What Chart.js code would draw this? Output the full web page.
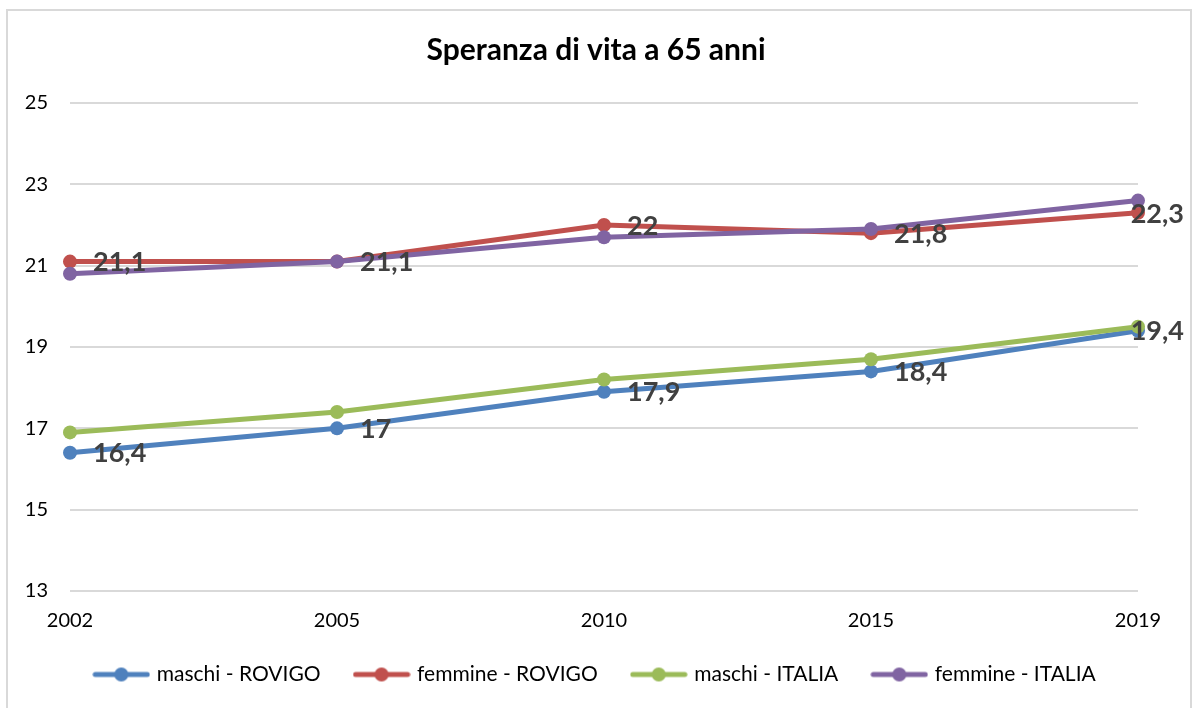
<!DOCTYPE html>
<html><head><meta charset="utf-8">
<script src="https://cdn.jsdelivr.net/npm/chart.js@4/dist/chart.umd.min.js"></script>
<style>
html,body{margin:0;padding:0;background:#fff;}
#wrap{position:relative;width:1192px;height:708px;overflow:hidden;}
#frame{position:absolute;left:6px;top:9px;width:1186px;height:720px;border:2px solid #d9d9d9;box-sizing:border-box;pointer-events:none;}
canvas{position:absolute;left:0;top:0;}
</style></head><body>
<div id="wrap"><canvas id="c" width="1192" height="708"></canvas><div id="frame"></div></div>
<script>
const years = ['2002', '2005', '2010', '2015', '2019'];
const maschiRovigo = [16.4, 17, 17.9, 18.4, 19.4];
const femmineRovigo = [21.1, 21.1, 22, 21.8, 22.3];
const maschiItalia = [16.9, 17.4, 18.2, 18.7, 19.5];
const femmineItalia = [20.8, 21.1, 21.7, 21.9, 22.6];
const seriesNames = ['maschi - ROVIGO', 'femmine - ROVIGO', 'maschi - ITALIA', 'femmine - ITALIA'];
const seriesColors = ['#4F81BD', '#C0504D', '#9BBB59', '#8064A2'];
const yMin = 13, yMax = 25, yStep = 2;
const titleText = 'Speranza di vita a 65 anni';

function legendIcon(color) {
  const c = document.createElement('canvas');
  c.width = 58; c.height = 16;
  const g = c.getContext('2d');
  g.strokeStyle = color; g.lineWidth = 5; g.lineCap = 'round';
  g.beginPath(); g.moveTo(3, 8); g.lineTo(55, 8); g.stroke();
  g.fillStyle = color; g.beginPath(); g.arc(29, 8, 7, 0, Math.PI * 2); g.fill();
  return c;
}

const valueLabels = {
  id: 'valueLabels',
  afterDatasetsDraw(chart) {
    const ctx = chart.ctx;
    ctx.save();
    ctx.font = 'bold 27px Lato';
    ctx.fillStyle = '#404040';
    ctx.textBaseline = 'middle';
    ctx.textAlign = 'left';
    [0, 1].forEach(di => {
      const meta = chart.getDatasetMeta(di);
      meta.data.forEach((pt, i) => {
        const txt = String(chart.data.datasets[di].data[i]).replace('.', ',');
        const w = ctx.measureText(txt).width;
        let x = pt.x + 23;
        if (x + w > 1184) x = 1184 - w;
        ctx.fillText(txt, x, pt.y + 1);
      });
    });
    ctx.restore();
  }
};

function build() {
  const allSeries = [maschiRovigo, femmineRovigo, maschiItalia, femmineItalia];
  const datasets = allSeries.map((d, i) => ({
    label: seriesNames[i],
    data: d,
    yAxisID: 'y',
    borderColor: seriesColors[i],
    backgroundColor: seriesColors[i],
    pointBackgroundColor: seriesColors[i],
    pointBorderColor: seriesColors[i],
    borderWidth: 5,
    pointRadius: 7,
    pointBorderWidth: 0,
    pointHoverRadius: 7,
    tension: 0,
    order: 3 - i
  }));
  const icons = seriesColors.map(legendIcon);
  new Chart(document.getElementById('c'), {
    type: 'line',
    data: { labels: years, datasets },
    plugins: [valueLabels],
    options: {
      responsive: false,
      animation: false,
      layout: { padding: { left: 0, right: 0, top: 0, bottom: 13 } },
      plugins: {
        tooltip: { enabled: false },
        title: {
          display: true,
          text: titleText,
          color: '#000',
          font: { family: 'Lato', size: 30, weight: 'bold' },
          padding: { top: 32, bottom: 35 }
        },
        legend: {
          position: 'bottom',
          labels: {
            usePointStyle: true,
            pointStyleWidth: 50,
            color: '#000',
            font: { family: 'Lato', size: 21 },
            padding: 36,
            generateLabels: (chart) => chart.data.datasets.map((ds, i) => ({
              text: ds.label,
              pointStyle: icons[i],
              fillStyle: ds.borderColor,
              strokeStyle: ds.borderColor,
              fontColor: '#000',
              lineWidth: 0,
              hidden: false,
              datasetIndex: i
            }))
          }
        }
      },
      scales: {
        x: {
          type: 'category',
          offset: false,
          grid: { display: false, drawTicks: false },
          border: { display: false },
          ticks: { color: '#000', font: { family: 'Lato', size: 20 }, padding: 18, maxRotation: 0, autoSkip: false },
          afterFit: (s) => { s.height = 37; }
        },
        y: {
          min: yMin, max: yMax,
          position: 'left',
          grid: { color: '#d9d9d9', lineWidth: 2, drawTicks: false },
          border: { display: false },
          ticks: { stepSize: yStep, color: '#000', font: { family: 'Lato', size: 20 }, padding: 22 },
          afterFit: (s) => { s.width = 70; }
        },
        yRight: {
          min: yMin, max: yMax,
          position: 'right',
          grid: { display: false, drawTicks: false },
          border: { display: false },
          ticks: { display: false },
          afterFit: (s) => { s.width = 54; }
        }
      }
    }
  });
}

Promise.all([
  document.fonts.load('bold 30px Lato'),
  document.fonts.load('21px Lato')
]).then(build, build);
</script>
</body></html>
